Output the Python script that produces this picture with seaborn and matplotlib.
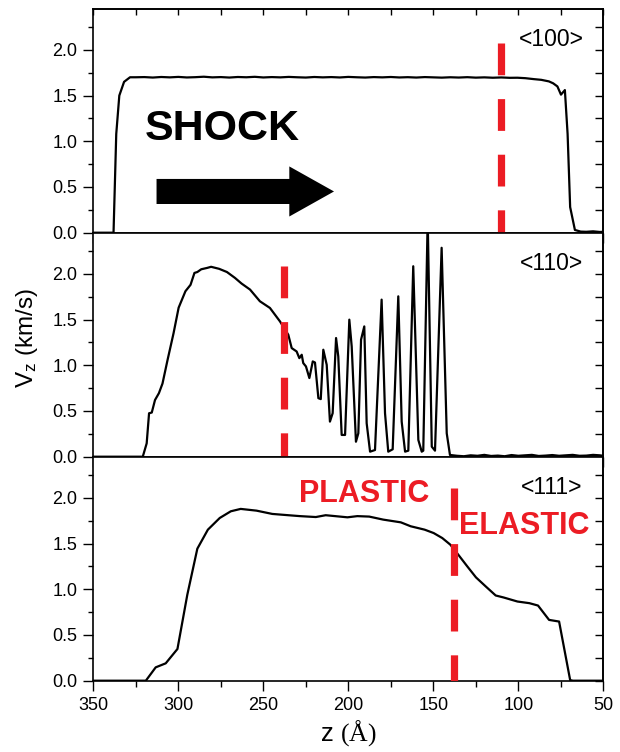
import matplotlib
matplotlib.use("Agg")
import matplotlib.pyplot as plt
import seaborn as sns
from matplotlib.ticker import MultipleLocator, FormatStrFormatter

# ---------------- data ----------------
p1_z = [350, 338.1, 336.5, 334.7, 331.9, 328.4,
        325, 320, 315, 310, 305, 300, 295, 290, 285, 280, 275, 270, 265, 260, 255,
        250, 245, 240, 235, 230, 225, 220, 215, 210, 205, 200, 195, 190, 185, 180,
        175, 170, 165, 160, 155, 150, 145, 140, 135, 130, 125, 120, 115, 110, 105,
        100.5, 95.8, 91, 86.5, 82, 79.5, 77, 74.9, 72.6, 71.0, 69.5, 66.7, 63.3, 60, 56, 52, 50]
p1_v = [0, 0, 1.08, 1.50, 1.65, 1.70,
        1.700, 1.702, 1.697, 1.703, 1.699, 1.704, 1.698, 1.701, 1.706, 1.699, 1.702,
        1.697, 1.703, 1.700, 1.705, 1.698, 1.702, 1.699, 1.704, 1.700, 1.697, 1.703,
        1.699, 1.702, 1.698, 1.704, 1.700, 1.697, 1.702, 1.699, 1.703, 1.698, 1.701,
        1.697, 1.702, 1.699, 1.696, 1.700, 1.697, 1.701, 1.696, 1.699, 1.695, 1.698, 1.694,
        1.695, 1.690, 1.680, 1.672, 1.655, 1.634, 1.60, 1.51, 1.56, 1.08, 0.28, 0.03,
        0.012, 0.01, 0.015, 0.008, 0.01]

p2_z = [350, 320.9, 318.6, 317.2, 315.6, 313.7, 311.4, 309.3, 306.3, 302.8, 299.8,
        295.8, 292.8, 290.5, 288.8, 286.5, 283.0, 280.7, 276.0, 271.4, 266.7, 262.8,
        257.8, 252.0, 246.1, 240.2, 235.3, 233.3, 230.4, 228.8, 227.4, 226.5, 224.9,
        222.9, 220.9, 219.6, 217.6, 216.2, 214.7, 212.7, 210.8, 209.2, 207.2, 205.9,
        203.9, 201.9, 199.4, 198.0, 195.5, 194.1, 192.5, 190.6, 189.2, 187.2, 184.3,
        180.4, 178.4, 176.5, 173.9, 170.6, 168.6, 166.6, 164.7, 161.8, 158.8, 156.8,
        155.9, 153.3, 150.9, 149.0, 145.1, 142.1, 140.2,
        136, 132, 128, 124, 120, 116, 112, 108, 104, 100, 96, 92, 88, 84, 80, 76, 72,
        68, 64, 60, 56, 52, 50]
p2_v = [0, 0, 0.146, 0.475, 0.483, 0.62, 0.695, 0.80, 1.06, 1.35, 1.63,
        1.81, 1.88, 2.01, 2.02, 2.05, 2.065, 2.077, 2.055, 2.02, 1.956, 1.894,
        1.828, 1.70, 1.627, 1.48, 1.334, 1.188, 1.151, 1.078, 1.115, 1.024, 0.987,
        0.86, 1.042, 1.03, 0.64, 0.63, 1.17, 1.005, 0.384, 0.476, 1.298, 1.097,
        0.238, 0.238, 1.499, 1.206, 0.164, 0.256, 1.28, 1.425, 0.366, 0.055, 0.073,
        1.718, 0.476, 0.055, 0.081, 1.754, 0.384, 0.055, 0.066, 2.083, 0.183, 0.055,
        0.066, 2.60, 0.11, 0.066, 2.285, 0.256, 0.019,
        0.01, 0.005, 0.015, 0.01, 0.02, 0.008, 0.012, 0.005, 0.018, 0.01, 0.015, 0.02,
        0.008, 0.012, 0.018, 0.01, 0.015, 0.02, 0.01, 0.012, 0.02, 0.015, 0.01]

p3_z = [350, 319.1, 313.3, 307.4, 300.5, 294.7, 288.8, 282.6, 275.6, 269.1, 263.3,
        254.0, 244.7, 235.3, 228.4, 219.1, 213.3, 200.5, 194.7, 187.7, 179.5, 169.1,
        163.3, 155.1, 149.8, 144.7, 140.0, 135.3, 130.0, 124.9, 119.1, 113.3, 108.6,
        100.5, 93.5, 88.4, 81.9, 76.0, 69.5, 67.9, 50]
p3_v = [0, 0, 0.146, 0.19, 0.347, 0.94, 1.444, 1.652, 1.78, 1.853, 1.879,
        1.86, 1.824, 1.81, 1.80, 1.79, 1.81, 1.787, 1.80, 1.795, 1.762, 1.732,
        1.689, 1.652, 1.615, 1.56, 1.488, 1.378, 1.25, 1.13, 1.03, 0.932, 0.91,
        0.866, 0.848, 0.822, 0.665, 0.647, 0.007, 0, 0]

panel_labels = ["<100>", "<110>", "<111>"]
front_z = [110, 238, 138]        # red dashed front positions
front_top = [2.07, 2.09, 2.11]

xlabel = r"z $\mathrm{(Å)}$"
ylabel = r"V$_\mathsf{z}$ (km/s)"

# ---------------- style ----------------
sns.set_style("ticks")
plt.rcParams["font.family"] = ["Liberation Sans", "DejaVu Sans"]
plt.rcParams["mathtext.fontset"] = "custom"
plt.rcParams["mathtext.rm"] = "Liberation Serif"
plt.rcParams["mathtext.sf"] = "Liberation Sans"
plt.rcParams["mathtext.it"] = "Liberation Sans:italic"
for k in ["axes.edgecolor", "xtick.color", "ytick.color", "text.color", "axes.labelcolor"]:
    plt.rcParams[k] = "black"

RED = "#ec1c24"
fig = plt.figure(figsize=(6.2, 7.52), dpi=100)
left = 93.3 / 620
width = 510 / 620
H = 224 / 752
b3 = 1 - 680.7 / 752
bottoms = [b3 + 2 * H, b3 + H, b3]
axes = [fig.add_axes([left, b, width, H]) for b in bottoms]

data = [(p1_z, p1_v), (p2_z, p2_v), (p3_z, p3_v)]
for i, ax in enumerate(axes):
    z, v = data[i]
    sns.lineplot(x=z, y=v, ax=ax, color="black", lw=1.6, sort=False, estimator=None)
    ax.plot([front_z[i], front_z[i]], [front_top[i], 0], color=RED, lw=5.2,
            linestyle=(0, (4.4, 3.3)), dash_capstyle="butt", zorder=3)
    ax.set_xlim(350, 50)
    ax.set_ylim(0, 2.45)
    ax.xaxis.set_major_locator(MultipleLocator(50))
    ax.xaxis.set_minor_locator(MultipleLocator(25))
    ax.yaxis.set_major_locator(MultipleLocator(0.5))
    ax.yaxis.set_minor_locator(MultipleLocator(0.25))
    ax.yaxis.set_major_formatter(FormatStrFormatter("%.1f"))
    ax.tick_params(which="both", direction="out", width=1.0, labelsize=13,
                   top=False, right=False, pad=4.5)
    ax.tick_params(which="major", length=7)
    ax.tick_params(axis="y", which="minor", length=3.6)
    ax.tick_params(axis="x", which="minor", length=4.0)
    for s in ax.spines.values():
        s.set_linewidth(1.2)
        s.set_color("black")
    ax.set_xlabel("")
    ax.set_ylabel("")
    if i < 2:
        ax.tick_params(labelbottom=False)
    sec = ax.secondary_yaxis("right")
    sec.yaxis.set_major_locator(MultipleLocator(0.5))
    sec.yaxis.set_minor_locator(MultipleLocator(0.25))
    sec.tick_params(which="both", direction="in", labelright=False, length=6.0, width=1.0)
    sec.spines["right"].set_linewidth(1.2)
    ax.text(80.5, 2.11, panel_labels[i], ha="center", va="center", fontsize=16.5)

top = axes[0].secondary_xaxis("top")
top.xaxis.set_major_locator(MultipleLocator(50))
top.xaxis.set_minor_locator(MultipleLocator(25))
top.tick_params(which="both", direction="in", labeltop=False, width=1.0, length=4.3)
top.spines["top"].set_linewidth(1.2)

ax1, ax2, ax3 = axes
ax1.text(274.3, 1.136, "SHOCK", ha="center", va="center", fontsize=31,
         fontweight="bold", zorder=5)
ax1.arrow(312.8, 0.451, -(312.8 - 208.4), 0, width=0.274, head_width=0.548,
          head_length=26.3, length_includes_head=True, fc="black", ec="none", zorder=5)

ax3.text(190.8, 2.04, "PLASTIC", ha="center", va="center", fontsize=22,
         fontweight="bold", color=RED, zorder=5)
ax3.text(96.6, 1.69, "ELASTIC", ha="center", va="center", fontsize=22,
         fontweight="bold", color=RED, zorder=5)

ax3.set_xlabel(xlabel, fontsize=18.5)
ax3.xaxis.set_label_coords(0.5, -0.165)
ax2.set_ylabel(ylabel, fontsize=17.5)
ax2.yaxis.set_label_coords(-0.105, 0.53)

fig.savefig("out.png", dpi=100, facecolor="white")
